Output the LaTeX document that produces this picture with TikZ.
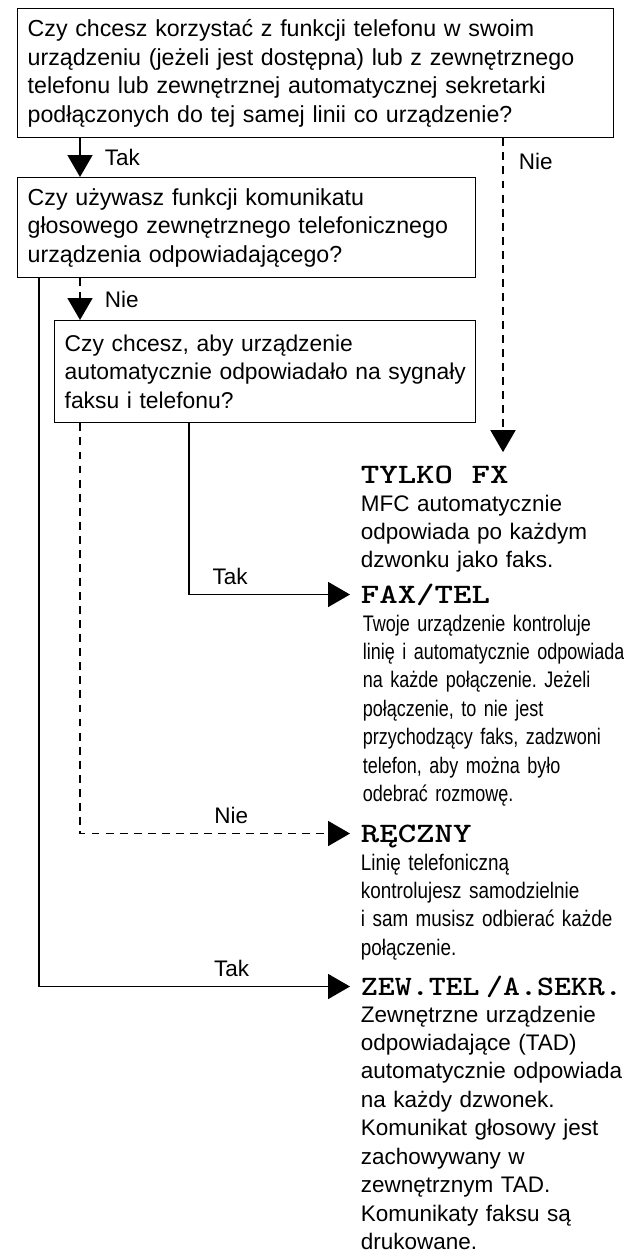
\documentclass[tikz,border=0pt]{standalone}
\usepackage{fontspec}
\usepackage{graphicx}
\setmainfont{Liberation Sans}
\newfontfamily\faxfamily[FakeStretch=0.8,WordSpace=0.75]{Liberation Sans}
\newfontfamily\recznyfamily[FakeStretch=0.84,WordSpace=0.8]{Liberation Sans}
\usetikzlibrary{arrows.meta,calc,positioning}
\frenchspacing
\newcommand\boxfont{\fontsize{13.2}{16.2}\selectfont\hyphenpenalty=10000}
\newcommand\bodyfont{\fontsize{12.8}{16.2}\selectfont\hyphenpenalty=10000}
\newcommand\faxfont{\faxfamily\bodyfont}
\newcommand\recznyfont{\recznyfamily\bodyfont}
\newcommand\headfont{\fontsize{20}{20}\selectfont\ttfamily\bfseries}
\newcommand\head[1]{\scalebox{1}[0.8]{#1}}
\tikzset{
flow/.style={>={Triangle[length=0.44cm,width=0.5cm]},line width=1pt,
    x=0.02cm,y=-0.02cm},
question/.style={draw,line width=0.8pt,anchor=north west,align=left,
    inner xsep=0.2cm,inner ysep=0pt,font=\boxfont},
outhead/.style={anchor=base west,inner sep=0pt,text height=0.34cm,
    text depth=0pt,font=\headfont},
outtext/.style={anchor=base west,inner sep=0pt,text width=5.5cm,
    align=left,font=\bodyfont},
lbl/.style={inner sep=0pt,text depth=0pt,font=\bodyfont},
yesline/.style={->},
noline/.style={->,dash pattern=on 4.5pt off 3.5pt},
}

\begin{document}
\begin{tikzpicture}[flow]
    \useasboundingbox (0,0) rectangle (623,1254);

    % pytania
    \node[question,text width=11.52cm,minimum height=2.58cm] (q1) at (17,8)
        {Czy chcesz korzystać z funkcji telefonu w swoim\\
         urządzeniu (jeżeli jest dostępna) lub z zewnętrznego\\
         telefonu lub zewnętrznej automatycznej sekretarki\\
         podłączonych do tej samej linii co urządzenie?};
    \node[question,text width=8.76cm,minimum height=2cm] (q2) at (17,177)
        {Czy używasz funkcji komunikatu\\
         głosowego zewnętrznego telefonicznego\\
         urządzenia odpowiadającego?};
    \node[question,text width=8.02cm,minimum height=2.04cm,
        font={\fontsize{13}{16.2}\selectfont}] (q3) at (54,320)
        {Czy chcesz, aby urządzenie\\
         \mbox{automatycznie odpowiadało na sygnały}\\
         faksu i telefonu?};

    % tryby odbioru
    \node[outhead] (tylko) at (360,483) {\head{TYLKO FX}};
    \node[outhead] (fax) at (360,603) {\head{FAX/TEL}};
    \node[outhead] (reczny) at (360,842) {\head{RĘCZNY}};
    \node[outhead] (zew) at (360,995)
        {\head{\scalebox{0.92}[1]{ZEW.TEL\hspace{0.2em}/A.SEKR.}}};

    \node[outtext] (tylkotxt) at ($(tylko.base west)+(0,28)$)
        {MFC automatycznie\\ odpowiada po każdym\\ dzwonku jako faks.};
    \node[outtext,font=\faxfont] (faxtxt) at ($(fax.base west)+(2,28)$)
        {Twoje urządzenie kontroluje\\ linię i automatycznie odpowiada\\
         na każde połączenie. Jeżeli\\ połączenie, to nie jest\\
         przychodzący faks, zadzwoni\\ telefon, aby można było\\
         odebrać rozmowę.};
    \node[outtext,font=\recznyfont] (recznytxt) at ($(reczny.base west)+(0,28)$)
        {Linię telefoniczną\\ kontrolujesz samodzielnie\\
         i sam musisz odbierać każde\\ połączenie.};
    \node[outtext] (zewtxt) at ($(zew.base west)+(0,27)$)
        {Zewnętrzne urządzenie\\ odpowiadające (TAD)\\
         automatycznie odpowiada\\ na każdy dzwonek.\\
         Komunikat głosowy jest\\ zachowywany w\\ zewnętrznym TAD.\\
         Komunikaty faksu są\\ drukowane.};

    % polaczenia
    \coordinate (t1) at ($(q1.south west)+(63,0)$);
    \coordinate (n1) at ($(q1.south west)+(486,0)$);
    \coordinate (t2) at ($(q2.south west)+(22,0)$);
    \coordinate (n2) at ($(q2.south west)+(63,0)$);
    \coordinate (t3) at ($(q3.south west)+(135,0)$);
    \coordinate (n3) at ($(q3.south west)+(26,0)$);

    \draw[yesline] (t1) -- (t1 |- q2.north)
        node[lbl,midway,right=0.48cm] {Tak};
    \draw[noline,shorten >=0.26cm] (n1) -- (n1 |- tylko.north)
        node[lbl,pos=0.07,right=0.3cm] {Nie};
    \draw[noline] (n2) -- (n2 |- q3.north)
        node[lbl,midway,right=0.48cm] {Nie};
    \draw[yesline,shorten >=0.2cm] (t3) |- (fax.west)
        node[lbl,pos=0.62,above=0.18cm] {Tak};
    \draw[noline,shorten >=0.2cm] (n3) |- (reczny.west)
        node[lbl,pos=0.77,above=0.18cm] {Nie};
    \draw[yesline,shorten >=0.2cm] (t2) |- (zew.west)
        node[lbl,pos=0.8,above=0.18cm] {Tak};
\end{tikzpicture}
\end{document}
